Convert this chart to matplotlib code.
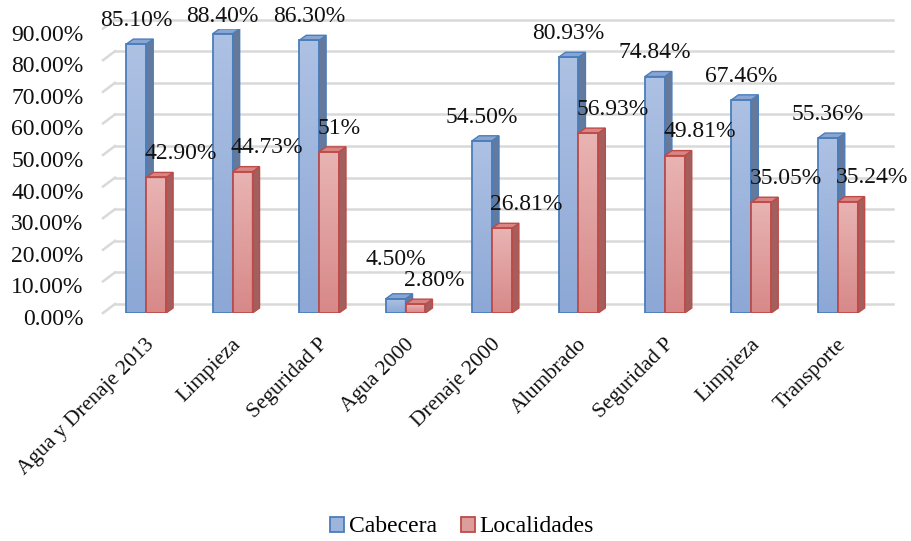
import numpy as np
import matplotlib
matplotlib.use('Agg')
import matplotlib.pyplot as plt
import matplotlib.transforms as mtransforms
from matplotlib.patches import Polygon, Patch
from matplotlib.colors import LinearSegmentedColormap

plt.rcParams['font.family'] = ['Liberation Serif', 'DejaVu Serif']

categories = ['Agua y Drenaje 2013', 'Limpieza', 'Seguridad P', 'Agua 2000',
              'Drenaje 2000', 'Alumbrado', 'Seguridad P', 'Limpieza', 'Transporte']
cabecera = [0.851, 0.884, 0.863, 0.045, 0.545, 0.8093, 0.7484, 0.6746, 0.5536]
localidades = [0.429, 0.4473, 0.51, 0.028, 0.2681, 0.5693, 0.4981, 0.3505, 0.3524]
cab_labels = ['85.10%', '88.40%', '86.30%', '4.50%', '54.50%', '80.93%', '74.84%', '67.46%', '55.36%']
loc_labels = ['42.90%', '44.73%', '51%', '2.80%', '26.81%', '56.93%', '49.81%', '35.05%', '35.24%']
yticks = np.arange(0, 0.91, 0.1)

DPI = 100
FS = 17
fig = plt.figure(figsize=(9.11, 5.41), dpi=DPI)
W, H = 911, 541
ax = fig.add_axes([103 / W, 228 / H, 778 / W, 284.4 / H])
ax.set_xlim(-0.5, 8.5)
ax.set_ylim(0, 0.9)
for s in ax.spines.values():
    s.set_visible(False)
ax.patch.set_alpha(0)

x = np.arange(len(categories))
bw = 0.23

# back wall gridlines (offset into depth)
wall = ax.transData + mtransforms.ScaledTranslation(12 / DPI, 9 / DPI, fig.dpi_scale_trans)
for v in yticks:
    ax.plot([-0.5, 8.5], [v, v], color='#d9d9d9', lw=1.8, transform=wall, clip_on=False, zorder=0)
    # left wall
    T = ax.transData
    p0 = T.transform((-0.5, v))
    p1 = p0 + np.array([12, 9])
    ax.plot([p0[0], p1[0]], [p0[1], p1[1]], color='#d9d9d9', lw=1.8,
            transform=mtransforms.IdentityTransform(), clip_on=False, zorder=0)

styles = {
    'blue': dict(top='#adc1e3', bot='#8da8d6', side='#64799c', cap='#8ba5d2', edge='#4a7ebb'),
    'red': dict(top='#e8b4b3', bot='#d78988', side='#a25f5d', cap='#d88584', edge='#be4b48'),
}
depth = np.array([7, 5])


def draw_bars(xs, vals, st, z):
    bars = ax.bar(xs, vals, width=bw, facecolor='none', edgecolor=st['edge'], lw=1.3, zorder=z + 0.2)
    cmap = LinearSegmentedColormap.from_list('g', [st['bot'], st['top']])
    grad = np.linspace(0, 1, 64).reshape(-1, 1)
    T = ax.transData
    ident = mtransforms.IdentityTransform()
    for b in bars:
        x0, x1, h = b.get_x(), b.get_x() + b.get_width(), b.get_height()
        im = ax.imshow(grad, extent=[x0, x1, 0, h], origin='lower', cmap=cmap,
                       aspect='auto', zorder=z, interpolation='bilinear')
        im.set_clip_path(b)
        a = T.transform((x1, 0))
        c = T.transform((x1, h))
        d = T.transform((x0, h))
        side = Polygon([a, c, c + depth, a + depth], closed=True, transform=ident,
                       facecolor=st['side'], edgecolor=st['edge'], lw=1.0, zorder=z + 0.1)
        cap = Polygon([d, c, c + depth, d + depth], closed=True, transform=ident,
                      facecolor=st['cap'], edgecolor=st['edge'], lw=1.0, zorder=z + 0.1)
        ax.add_patch(side)
        ax.add_patch(cap)
    return bars


draw_bars(x - bw / 2, cabecera, styles['blue'], 2)
draw_bars(x + bw / 2, localidades, styles['red'], 3)
ax.set_xlim(-0.5, 8.5)
ax.set_ylim(0, 0.9)

# data labels
lift = {3: 0.05}
for i in range(len(categories)):
    yb = min(cabecera[i] + 0.075 + lift.get(i, 0), 0.937)
    ax.text(x[i] - bw / 2, yb, cab_labels[i], ha='center', va='center', fontsize=FS,
            color='#111111', zorder=6, clip_on=False)
    yr = min(localidades[i] + 0.075, 0.937)
    ax.text(x[i] - 0.02, yr, loc_labels[i], ha='left', va='center', fontsize=FS,
            color='#111111', zorder=6, clip_on=False)

ax.set_yticks(yticks)
ax.set_yticklabels(['{:.2%}'.format(v) for v in yticks], fontsize=FS, color='#111111')
ax.tick_params(axis='y', length=0, pad=14)
down = mtransforms.ScaledTranslation(0, -4 / DPI, fig.dpi_scale_trans)
for lab in ax.get_yticklabels():
    lab.set_transform(lab.get_transform() + down)

ax.set_xticks(x)
ax.set_xticklabels(categories, rotation=45, ha='right', rotation_mode='anchor',
                   fontsize=15.5, color='#111111')
ax.tick_params(axis='x', length=0, pad=16)
shift = mtransforms.ScaledTranslation(-1 / DPI, 0, fig.dpi_scale_trans)
for lab in ax.get_xticklabels():
    lab.set_transform(lab.get_transform() + shift)

handles = [Patch(facecolor='#9db4dd', edgecolor='#4a7ebb', lw=1.3, label='Cabecera'),
           Patch(facecolor='#dd9d9c', edgecolor='#be4b48', lw=1.3, label='Localidades')]
fig.legend(handles=handles, loc='center', bbox_to_anchor=(462 / W, 1 - 527 / H), ncol=2,
           frameon=False, fontsize=FS, handlelength=0.6, handleheight=0.6,
           handletextpad=0.2, columnspacing=1.0)

fig.savefig('out.png', dpi=DPI)
